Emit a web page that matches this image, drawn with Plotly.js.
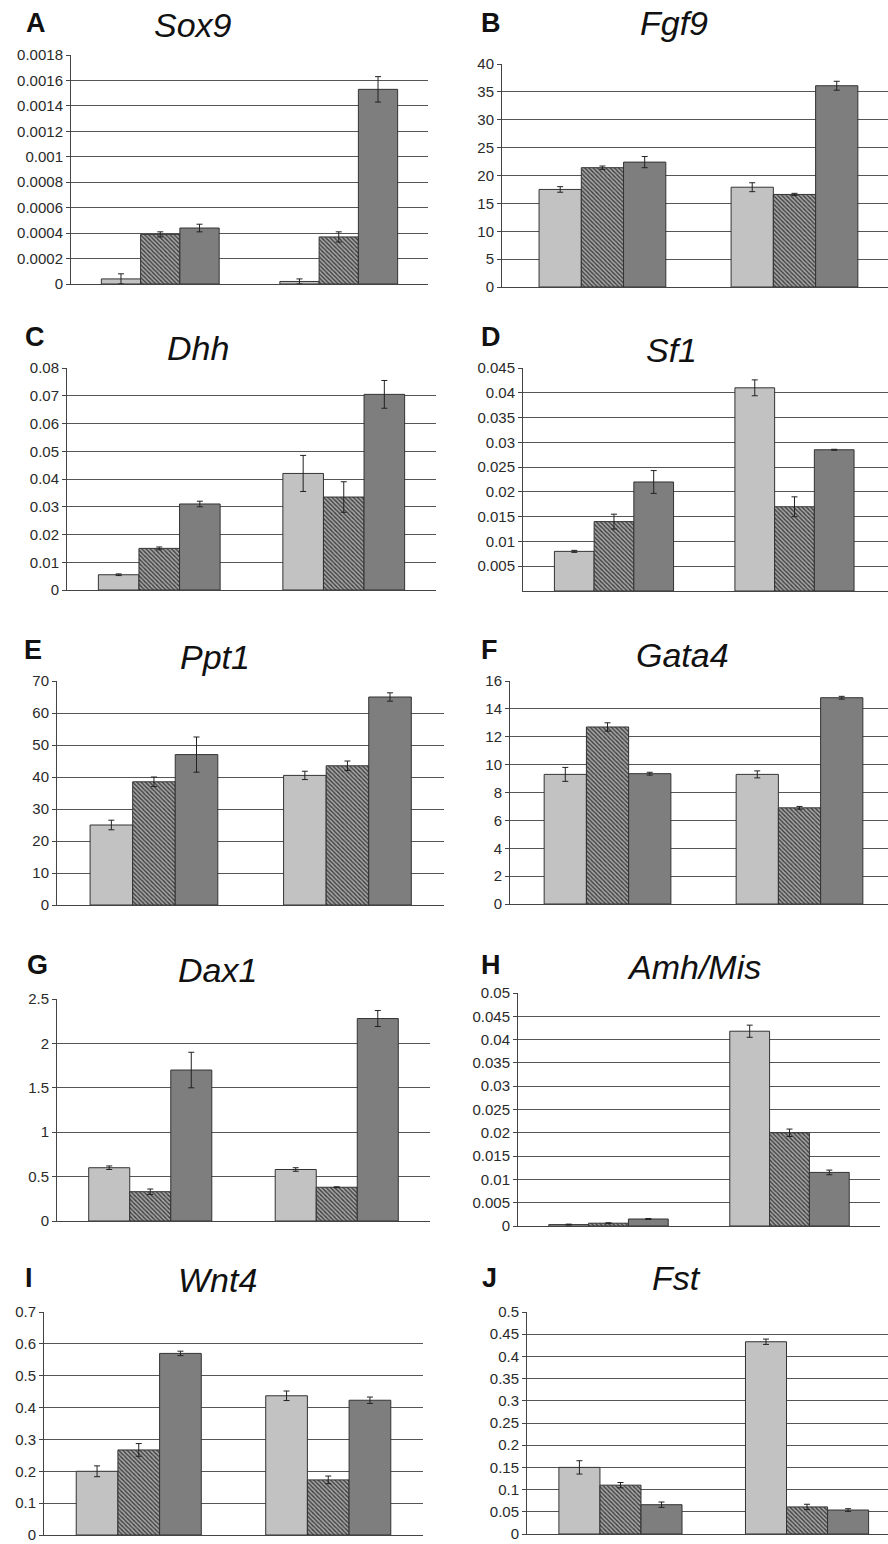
<!DOCTYPE html>
<html>
<head>
<meta charset="utf-8">
<script src="https://cdn.plot.ly/plotly-3.0.1.min.js"></script>
<style>
html,body{margin:0;padding:0;background:#fff;}
#chart{width:888px;height:1544px;}
</style>
</head>
<body>
<div id="chart"></div>
<script>
// ---------- DATA ----------
const categories = ['Group 1', 'Group 2'];
const seriesNames = ['Series 1', 'Series 2', 'Series 3'];
const panelLetters = ['A', 'B', 'C', 'D', 'E', 'F', 'G', 'H', 'I', 'J'];
const geneNames = ['Sox9', 'Fgf9', 'Dhh', 'Sf1', 'Ppt1', 'Gata4', 'Dax1', 'Amh/Mis', 'Wnt4', 'Fst'];

// values: [series1 (light), series2 (hatched), series3 (dark)], each [group1, group2]
const sox9Values = [[0.00004, 0.00002], [0.00039, 0.00037], [0.00044, 0.00153]];
const sox9Errors = [[0.00004, 0.00002], [0.00002, 0.00004], [0.00003, 0.0001]];
const fgf9Values = [[17.5, 17.9], [21.4, 16.6], [22.4, 36.1]];
const fgf9Errors = [[0.5, 0.8], [0.3, 0.2], [1.0, 0.8]];
const dhhValues = [[0.0055, 0.042], [0.015, 0.0335], [0.031, 0.0705]];
const dhhErrors = [[0.0003, 0.0065], [0.0005, 0.0055], [0.001, 0.005]];
const sf1Values = [[0.008, 0.041], [0.014, 0.017], [0.022, 0.0285]];
const sf1Errors = [[0.0002, 0.0016], [0.0015, 0.002], [0.0023, 0.0001]];
const ppt1Values = [[25, 40.5], [38.5, 43.5], [47, 65]];
const ppt1Errors = [[1.5, 1.3], [1.5, 1.5], [5.5, 1.3]];
const gata4Values = [[9.3, 9.3], [12.7, 6.9], [9.35, 14.8]];
const gata4Errors = [[0.5, 0.25], [0.3, 0.1], [0.1, 0.1]];
const dax1Values = [[0.6, 0.58], [0.33, 0.38], [1.7, 2.28]];
const dax1Errors = [[0.02, 0.02], [0.03, 0.005], [0.2, 0.09]];
const amhValues = [[0.0003, 0.0418], [0.0006, 0.02], [0.0015, 0.0115]];
const amhErrors = [[0.0001, 0.0013], [0.0001, 0.0008], [0.0001, 0.0005]];
const wnt4Values = [[0.2, 0.437], [0.267, 0.173], [0.57, 0.423]];
const wnt4Errors = [[0.017, 0.015], [0.02, 0.012], [0.007, 0.01]];
const fstValues = [[0.15, 0.433], [0.11, 0.061], [0.066, 0.054]];
const fstErrors = [[0.015, 0.006], [0.006, 0.006], [0.006, 0.003]];

const panelValues = [sox9Values, fgf9Values, dhhValues, sf1Values, ppt1Values, gata4Values, dax1Values, amhValues, wnt4Values, fstValues];
const panelErrors = [sox9Errors, fgf9Errors, dhhErrors, sf1Errors, ppt1Errors, gata4Errors, dax1Errors, amhErrors, wnt4Errors, fstErrors];

// y-axis tick labels
const yMax = [0.0018, 40, 0.08, 0.045, 70, 16, 2.5, 0.05, 0.7, 0.5];
const yStep = [0.0002, 5, 0.01, 0.005, 10, 2, 0.5, 0.005, 0.1, 0.05];
const yShowZero = [true, true, true, false, true, true, true, true, true, true];

// ---------- LAYOUT GEOMETRY (pixels) ----------
const W = 888, H = 1544;
// [left, right, top, zero, xRangeLeft, xRangeRight]
const boxes = [
  [71, 428, 55, 284, -0.5, 1.5],
  [502, 888, 64, 287, -0.523, 1.487],
  [67, 436, 368, 590, -0.5, 1.5],
  [523, 888, 368, 591, -0.504, 1.518],
  [57, 444, 681, 905, -0.501, 1.499],
  [510, 888, 681, 904, -0.508, 1.461],
  [57, 430, 999, 1221, -0.5, 1.5],
  [518, 880, 993, 1226, -0.5, 1.5],
  [44, 423, 1312, 1535, -0.5, 1.5],
  [527, 888, 1312, 1534, -0.501, 1.434]
];
// title centers [x, y], letter centers [x, y]
const titlePos = [[193, 25], [674, 23], [198, 348], [671, 350], [215, 657], [682, 655], [217, 970], [694, 967], [217, 1280], [676, 1278]];
const letterPos = [[36, 23], [491, 23], [35, 337], [491, 337], [33, 650], [489, 650], [37, 965], [491, 965], [29, 1278], [489, 1278]];

const FONT = 'Liberation Sans, Arial, sans-serif';
const barLine = {color: '#333333', width: 1};
const seriesStyles = [
  {color: '#c2c2c2', line: barLine},
  {color: '#909090', line: barLine, pattern: {shape: '\\', size: 3, solidity: 0.45, fgcolor: '#3e3e3e', bgcolor: '#a6a6a6', fillmode: 'replace'}},
  {color: '#7e7e7e', line: barLine}
];

const traces = [];
const layout = {
  width: W, height: H,
  margin: {l: 0, r: 0, t: 0, b: 0},
  paper_bgcolor: '#ffffff', plot_bgcolor: '#ffffff',
  showlegend: false,
  barmode: 'group',
  bargap: 0.34,
  bargroupgap: 0,
  font: {family: FONT, color: '#222'},
  annotations: []
};

function fmt(v) { return String(parseFloat(v.toFixed(6))); }

for (let p = 0; p < 10; p++) {
  const idx = p === 0 ? '' : String(p + 1);
  const [L, R, T, Z, xr0, xr1] = boxes[p];
  for (let s = 0; s < 3; s++) {
    traces.push({
      type: 'bar',
      name: seriesNames[s],
      x: categories,
      y: panelValues[p][s],
      xaxis: 'x' + idx,
      yaxis: 'y' + idx,
      marker: seriesStyles[s],
      error_y: {type: 'data', array: panelErrors[p][s], visible: true, color: '#222', thickness: 1, width: 3}
    });
  }
  const tv = [], tt = [];
  const n = Math.round(yMax[p] / yStep[p]);
  for (let k = 0; k <= n; k++) {
    if (k === 0 && !yShowZero[p]) continue;
    const v = k * yStep[p];
    tv.push(v); tt.push(fmt(v));
  }
  layout['xaxis' + idx] = {
    domain: [L / W, R / W],
    anchor: 'y' + idx,
    type: 'category',
    categoryorder: 'array', categoryarray: categories,
    range: [xr0, xr1],
    showticklabels: false,
    ticks: '',
    showgrid: false,
    showline: true, linecolor: '#444', linewidth: 1,
    zeroline: false,
    fixedrange: true
  };
  layout['yaxis' + idx] = {
    domain: [(H - Z) / H, (H - T) / H],
    anchor: 'x' + idx,
    range: [0, yMax[p]],
    tickmode: 'array', tickvals: tv, ticktext: tt,
    ticks: 'outside', ticklen: 4, tickcolor: '#444', tickwidth: 1,
    showgrid: true, gridcolor: '#555555', gridwidth: 1,
    showline: true, linecolor: '#444', linewidth: 1,
    zeroline: false,
    ticklabeloverflow: 'allow',
    tickfont: {family: FONT, size: 15, color: '#2a2a2a'},
    fixedrange: true
  };
  layout.annotations.push({
    text: '<i>' + geneNames[p] + '</i>',
    xref: 'paper', yref: 'paper',
    x: titlePos[p][0] / W, y: 1 - titlePos[p][1] / H,
    xanchor: 'center', yanchor: 'middle',
    showarrow: false,
    font: {family: FONT, size: 34, color: '#111'}
  });
  layout.annotations.push({
    text: '<b>' + panelLetters[p] + '</b>',
    xref: 'paper', yref: 'paper',
    x: letterPos[p][0] / W, y: 1 - letterPos[p][1] / H,
    xanchor: 'center', yanchor: 'middle',
    showarrow: false,
    font: {family: FONT, size: 27, color: '#111'}
  });
}

Plotly.newPlot('chart', traces, layout, {displayModeBar: false, staticPlot: true});
</script>
</body>
</html>
